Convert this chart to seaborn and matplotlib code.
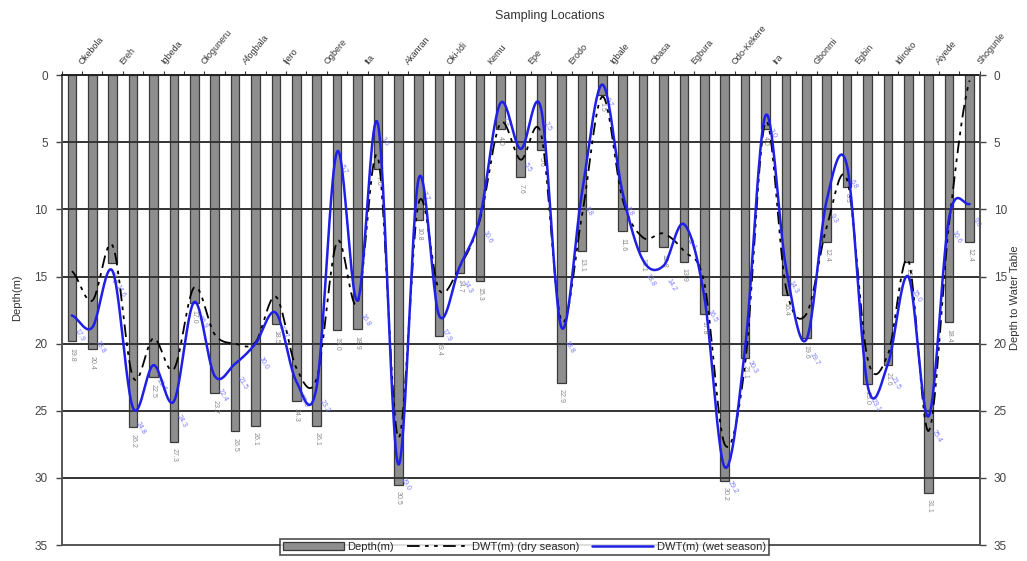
import numpy as np
import pandas as pd
import matplotlib
matplotlib.use("Agg")
import matplotlib.pyplot as plt
import seaborn as sns

# ---------------- data ----------------
names = ["Okebola", "Ereh", "Igbeda", "Ologuneru", "Afogbala", "Ijero", "Ogbere",
         "Ita", "Akanran", "Oki-Idi", "Kemu", "Epe", "Erodo", "Igbale", "Obasa",
         "Egbura", "Odo-Kekere", "Ira", "Gbonmi", "Egbin", "Idiroko", "Aiyede",
         "Shogunle"]
# every other location is named on the axis (45 sampling points)
tick_labels = []
for k in range(45):
    tick_labels.append(names[k // 2] if k % 2 == 0 else "")

depth = [19.8, 20.4, 14.0, 26.2, 22.5, 27.3, 17.0, 23.7, 26.5, 26.1, 18.5, 24.3,
         26.1, 19.0, 18.9, 7.0, 30.5, 10.8, 19.4, 14.7, 15.3, 4.0, 7.6, 5.6, 22.9,
         13.1, 1.5, 11.6, 13.1, 12.8, 13.9, 17.8, 30.2, 21.1, 4.0, 16.4, 19.6, 12.4,
         8.3, 23.0, 21.6, 13.9, 31.1, 18.4, 12.4]
dwt_dry = [14.6, 16.8, 12.7, 22.5, 19.6, 21.9, 15.8, 19.3, 20.0, 19.9, 16.5, 21.8,
           22.6, 12.4, 17.0, 6.1, 27.0, 9.5, 16.0, 14.3, 10.8, 3.6, 6.3, 4.4, 18.3,
           10.5, 1.6, 9.3, 12.1, 11.8, 13.1, 15.5, 27.5, 21.5, 3.5, 15.8, 17.8, 11.3,
           7.8, 21.1, 20.8, 13.8, 26.5, 11.0, 0.4]
dwt_wet = [17.9, 18.8, 14.6, 24.8, 21.6, 24.3, 16.9, 22.4, 21.5, 20.0, 17.7, 22.8,
           23.2, 5.7, 16.8, 3.6, 29.0, 7.7, 17.9, 14.3, 10.6, 2.1, 5.5, 2.5, 18.8,
           8.8, 0.7, 8.8, 13.8, 14.2, 11.1, 16.5, 29.2, 20.3, 3.0, 14.3, 19.7, 9.3,
           6.8, 23.1, 21.5, 15.0, 25.4, 10.6, 9.6]
y_ticks = [0, 5, 10, 15, 20, 25, 30, 35]


def smooth_curve(vals, n=24):
    """Excel-style smoothed line (uniform Catmull-Rom through the data points)."""
    v = np.asarray(vals, float)
    m = len(v)
    xs, ys = [], []
    t = np.linspace(0, 1, n, endpoint=False)
    for i in range(m - 1):
        p0 = v[max(i - 1, 0)]
        p1 = v[i]
        p2 = v[i + 1]
        p3 = v[min(i + 2, m - 1)]
        y = 0.5 * ((2 * p1) + (-p0 + p2) * t + (2 * p0 - 5 * p1 + 4 * p2 - p3) * t ** 2
                   + (-p0 + 3 * p1 - 3 * p2 + p3) * t ** 3)
        xs.extend(i + t)
        ys.extend(y)
    xs.append(m - 1)
    ys.append(v[-1])
    return np.array(xs), np.array(ys)


# ---------------- figure ----------------
sns.set_theme(style="white")
plt.rcParams["font.family"] = ["Liberation Sans", "DejaVu Sans"]

fig = plt.figure(figsize=(10.27, 5.61), dpi=100)
ax = fig.add_axes([0.060, 0.0285, 0.894, 0.8375])

df = pd.DataFrame({"idx": [str(i) for i in range(45)], "depth": depth})
sns.barplot(data=df, x="idx", y="depth", ax=ax, color="#8e8e8e", width=0.42,
            edgecolor="#3a3a3a", linewidth=0.9, saturation=1, label="Depth(m)")

xd, yd = smooth_curve(dwt_dry)
xw, yw = smooth_curve(dwt_wet)
ax.plot(xd, yd, color="black", lw=1.3, dashes=(7, 3, 2, 3, 2, 3),
        label="DWT(m) (dry season)", zorder=4)
ax.plot(xw, yw, color="#1f1fe6", lw=1.8, label="DWT(m) (wet season)", zorder=5)

# data labels (small, rotated, as in the source chart)
for i, d in enumerate(depth):
    ax.text(i, d + 0.5, f"{d:.1f}", rotation=270, ha="center", va="top",
            fontsize=5, color="#888888", zorder=3)
for i, w in enumerate(dwt_wet):
    ax.text(i + 0.35, w + 0.9, f"{w:.1f}", rotation=-60, ha="left", va="top",
            fontsize=5, color="#7a7aff", rotation_mode="anchor", zorder=3)

ax.set_xlim(-0.5, 44.5)
ax.set_ylim(35, 0)
ax.set_yticks(y_ticks)
ax.set_yticklabels([str(v) for v in y_ticks], fontsize=8.5, color="#444444")
ax.tick_params(axis="y", which="both", direction="out", length=4, width=1,
               color="#444444", left=True, pad=6)
for yv in y_ticks[1:-1]:
    ax.axhline(yv, color="#333333", lw=1.4, zorder=1)

# category axis at the top
ax.xaxis.tick_top()
ax.set_xticks(np.arange(-0.5, 45.0, 1.0))
ax.set_xticklabels([])
ax.tick_params(axis="x", which="both", direction="out", length=3, width=0.8,
               color="#333333", top=True, bottom=False)
for i, lab in enumerate(tick_labels):
    if lab:
        ax.text(i + 0.45, -0.9, lab, rotation=50, rotation_mode="anchor",
                ha="left", va="center", fontsize=6.5, color="#333333",
                clip_on=False)
ax.set_xlabel("")
ax.set_ylabel("")

for side, sp in ax.spines.items():
    sp.set_visible(True)
    sp.set_linewidth(1.4)
    sp.set_color("#555555")
ax.spines["top"].set_color("#222222")

# secondary axis on the right
ax2 = ax.twinx()
ax2.set_ylim(35, 0)
ax2.set_yticks(y_ticks)
ax2.set_yticklabels([str(v) for v in y_ticks], fontsize=8.5, color="#444444")
ax2.tick_params(axis="y", direction="out", length=4, width=1, color="#444444",
                right=True, pad=6)
ax2.grid(False)
for sp in ax2.spines.values():
    sp.set_visible(False)
ax2.spines["right"].set_visible(True)
ax2.spines["right"].set_linewidth(1.4)
ax2.spines["right"].set_color("#555555")

fig.text(0.535, 0.972, "Sampling Locations", ha="center", va="center",
         fontsize=9, color="#333333")
fig.text(0.017, 0.47, "Depth(m)", rotation=90, ha="center", va="center",
         fontsize=8, color="#333333")
fig.text(0.988, 0.47, "Depth to Water Table", rotation=90, ha="center",
         va="center", fontsize=8, color="#333333")

handles, labels = ax.get_legend_handles_labels()
order = [labels.index("Depth(m)"), labels.index("DWT(m) (dry season)"),
         labels.index("DWT(m) (wet season)")]
handles = [handles[k] for k in order]
labels = [labels[k] for k in order]
leg = ax.legend(handles, labels, loc="center", bbox_to_anchor=(0.504, -0.004),
                ncol=3, fontsize=8, frameon=True, fancybox=False,
                edgecolor="#222222", handlelength=5.5, borderpad=0.25,
                columnspacing=1.2, handletextpad=0.3)
leg.get_frame().set_linewidth(1.2)
leg.set_zorder(10)

fig.savefig("out.png", dpi=100, facecolor="white")
